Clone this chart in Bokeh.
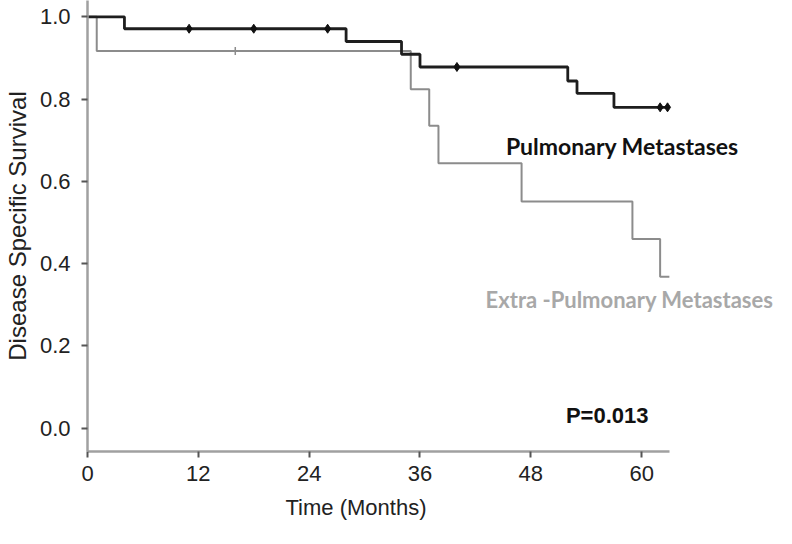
import math
from bokeh.plotting import figure
from bokeh.models import Range1d, NumeralTickFormatter, FixedTicker, Title
from bokeh.core.properties import value
from bokeh.embed import file_html
from bokeh.resources import INLINE

# Kaplan-Meier curves (months, survival)
pul_time = [0, 4, 28, 34, 36, 52, 53, 57, 62.8]
pul_surv = [1.0, 0.971, 0.940, 0.909, 0.878, 0.844, 0.814, 0.780, 0.780]
pul_cens_time = [11, 18, 26, 40, 62, 62.8]
pul_cens_surv = [0.971, 0.971, 0.971, 0.878, 0.780, 0.780]

ext_time = [0, 1, 35, 37, 38, 47, 59, 62, 63]
ext_surv = [1.0, 0.917, 0.824, 0.735, 0.644, 0.551, 0.460, 0.368, 0.368]
ext_cens_time = [16]
ext_cens_surv = [0.917]

x_ticks = [0, 12, 24, 36, 48, 60]
y_ticks = [0.0, 0.2, 0.4, 0.6, 0.8, 1.0]

series_labels = ["Pulmonary Metastases", "Extra -Pulmonary Metastases"]
label_x = [45.3, 43.1]
label_y = [0.6865, 0.3137]
p_text = ["P=0.013"]
p_x = [51.8]
p_y = [0.032]

X_END = 74.6
Y_START, Y_END = -0.0564, 1.0396

p = figure(width=776, height=528, output_backend="svg", toolbar_location=None,
           x_range=Range1d(0, X_END), y_range=Range1d(Y_START, Y_END),
           min_border_left=86, min_border_right=0, min_border_top=0, min_border_bottom=77)
p.outline_line_color = None
p.grid.visible = False
p.background_fill_color = "white"

p.step(ext_time, ext_surv, mode="after", line_color="#8c8c8c", line_width=2)
p.step(pul_time, pul_surv, mode="after", line_color="#1e1e1e", line_width=2.8)
p.scatter(pul_cens_time, pul_cens_surv, marker="diamond", size=9, color="#111111")
p.scatter(ext_cens_time, ext_cens_surv, marker="dash", angle=math.pi / 2, size=8,
          line_color="#8c8c8c", line_width=1.5)

p.text(x=label_x[:1], y=label_y[:1], text=series_labels[:1], text_font=value("Lato"),
       text_font_style="bold", text_font_size="23px", text_color="#111111",
       text_align="left", text_baseline="alphabetic")
p.text(x=label_x[1:], y=label_y[1:], text=series_labels[1:], text_font=value("Lato"),
       text_font_style="bold", text_font_size="22px", text_color="#a8a8a8",
       text_align="left", text_baseline="alphabetic")
p.text(x=p_x, y=p_y, text=p_text, text_font=value("Liberation Sans"),
       text_font_style="bold", text_font_size="22px", text_color="#111111",
       text_align="left", text_baseline="alphabetic")

for ax in (p.xaxis[0], p.yaxis[0]):
    ax.axis_line_color = "#a0a0a0"
    ax.axis_line_width = 2.5
    ax.major_tick_line_color = "#555555"
    ax.major_tick_line_width = 2
    ax.major_tick_out = 6
    ax.major_tick_in = 0
    ax.minor_tick_line_color = None
    ax.major_label_text_font = "Liberation Sans"
    ax.major_label_text_font_size = "22px"
    ax.major_label_text_color = "#222222"

p.xaxis.ticker = FixedTicker(ticks=x_ticks)
p.xaxis.bounds = (0, 63)
p.xaxis.major_label_standoff = 8
p.yaxis.ticker = FixedTicker(ticks=y_ticks)
p.yaxis.formatter = NumeralTickFormatter(format="0.0")
p.yaxis.major_label_standoff = 11
p.yaxis.axis_label = "Disease Specific Survival"
p.yaxis.axis_label_text_font = "Liberation Sans"
p.yaxis.axis_label_text_font_size = "24px"
p.yaxis.axis_label_text_font_style = "normal"
p.yaxis.axis_label_text_color = "#222222"
p.yaxis.axis_label_standoff = 6

xt = Title(text="Time (Months)", align="left", offset=198, standoff=18,
           text_font="Liberation Sans", text_font_size="22px",
           text_font_style="normal", text_color="#222222")
p.add_layout(xt, "below")

open("out.html", "w").write(file_html(p, INLINE))
